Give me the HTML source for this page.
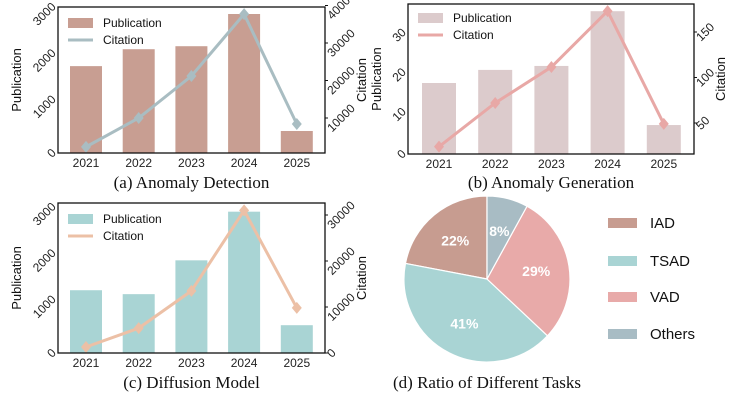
<!DOCTYPE html>
<html><head><meta charset="utf-8"><style>
body{margin:0;background:#fff;width:750px;height:400px;overflow:hidden}
svg{font-family:"Liberation Sans",sans-serif}
.cap{font-family:"Liberation Serif",serif;font-size:17px;fill:#111}
</style></head><body>
<svg id="fig" width="750" height="400"></svg>
<script>
const years=["2021","2022","2023","2024","2025"];
const pubA=[1875,2240,2305,3000,475];
const citA=[2300,10000,21200,37700,8400];
const pubB=[17.9,21.2,22.2,36,7.3];
const citB=[24,72,111.5,173,49];
const pubC=[1355,1270,2000,3050,600];
const citC=[1300,5400,13500,31000,9800];
const leftTicksA=[0,1000,2000,3000];
const rightTicksA=[10000,20000,30000,40000];
const leftTicksB=[0,10,20,30];
const rightTicksB=[50,100,150];
const leftTicksC=[0,1000,2000,3000];
const rightTicksC=[0,10000,20000,30000];
const pieLabels=["IAD","TSAD","VAD","Others"];
const pieValues=[22,41,29,8];
const pieColors=["#c79c90","#a9d4d4","#e8aaa9","#a8bcc4"];

const NS="http://www.w3.org/2000/svg";
const svg=document.getElementById('fig');
function mk(tag,attrs,parent,txt){const e=document.createElementNS(NS,tag);for(const k in attrs)e.setAttribute(k,attrs[k]);if(txt!==undefined)e.textContent=txt;(parent||svg).appendChild(e);return e;}

function panel(o){
  const g=mk('g',{});
  
  
  const yL=v=>o.bottom-(v-o.l0)/(o.l1-o.l0)*(o.bottom-o.lTop);
  const yR=v=>o.rY0-(v-o.r0)/(o.r1-o.r0)*(o.rY0-o.rY1);
  const xc=i=>o.x0+i*o.step;
  years.forEach((y,i)=>{
    const r=mk('rect',{x:xc(i)-o.bw/2,y:yL(o.pub[i]),width:o.bw,height:o.bottom-yL(o.pub[i]),fill:o.barColor},g);
    
    
  });
  const pts=o.cit.map((v,i)=>xc(i)+','+yR(v)).join(' ');
  const pl=mk('polyline',{points:pts,fill:'none',stroke:o.lineColor,'stroke-width':3},g);
  
  
  o.cit.forEach((v,i)=>{
    const x=xc(i),y=yR(v);
    const m=mk('polygon',{points:`${x},${y-6} ${x+5},${y} ${x},${y+6} ${x-5},${y}`,fill:o.lineColor},g);
    
    
  });
  const fr=mk('rect',{x:o.left,y:o.top,width:o.right-o.left,height:o.bottom-o.top,fill:'none',stroke:'#111','stroke-width':1.3},g);
  
  
  years.forEach((y,i)=>{
    const t=mk('text',{x:xc(i),y:o.bottom+14,'text-anchor':'middle','font-size':12,fill:'#222'},g,y);
    
    
  });
  o.lt.forEach(v=>{
    const y=yL(v);
    const w=String(v).length*6.7;
    const x=o.left-4-w*0.36;
    const t=mk('text',{x:x,y:y+4,'text-anchor':'middle','font-size':12,fill:'#222',transform:`rotate(-45 ${x} ${y})`},g,v);
    
    
  });
  o.rt.forEach(v=>{
    const y=yR(v);
    const w=String(v).length*6.7;
    const x=o.right+4+w*0.36;
    mk('line',{x1:o.right,x2:o.right+3,y1:y,y2:y,stroke:'#111'},g);
    const t=mk('text',{x:x,y:y+4,'text-anchor':'middle','font-size':12,fill:'#222',transform:`rotate(-45 ${x} ${y})`},g,v);
    
    
  });
  const mid=(o.top+o.bottom)/2;
  const yl=mk('text',{x:o.ylx,y:mid,'text-anchor':'middle','font-size':13,fill:'#111',transform:`rotate(-90 ${o.ylx} ${mid})`},g,'Publication');
  
  
  const yr=mk('text',{x:o.yrx,y:mid,'text-anchor':'middle','font-size':13,fill:'#111',transform:`rotate(-90 ${o.yrx} ${mid})`},g,'Citation');
  
  
  const lg=mk('g',{},g);
  
  
  mk('rect',{x:o.lgx,y:o.lgy-5,width:25,height:10,fill:o.barColor},lg);
  mk('text',{x:o.lgx+35,y:o.lgy+4,'font-size':12,fill:'#111'},lg,'Publication');
  mk('line',{x1:o.lgx,x2:o.lgx+25,y1:o.lgy+17,y2:o.lgy+17,stroke:o.lineColor,'stroke-width':3},lg);
  mk('text',{x:o.lgx+35,y:o.lgy+21,'font-size':12,fill:'#111'},lg,'Citation');
  const c=mk('text',{x:(o.left+o.right)/2,y:o.capy,'text-anchor':'middle',class:'cap'},g,o.cap);
  
  
}

panel({name:'anomaly-detection-chart',left:58,right:325,top:7,bottom:153,x0:86,step:52.7,bw:32,
 pub:pubA,cit:citA,l0:0,l1:3000,lTop:14,r0:10000,r1:30000,rY0:118,rY1:43,lt:leftTicksA,rt:rightTicksA,
 barColor:'#c89e92',lineColor:'#a9bdc2',ylx:21,yrx:366,lgx:68,lgy:23,capy:188,cap:'(a) Anomaly Detection'});
panel({name:'anomaly-generation-chart',left:408,right:694,top:4,bottom:154,x0:439,step:56.2,bw:34,
 pub:pubB,cit:citB,l0:0,l1:30,lTop:35,r0:50,r1:150,rY0:123,rY1:32,lt:leftTicksB,rt:rightTicksB,
 barColor:'#dccbcc',lineColor:'#e8a8a6',ylx:381,yrx:725,lgx:418,lgy:18,capy:188,cap:'(b) Anomaly Generation'});
panel({name:'diffusion-model-chart',left:58,right:325,top:203,bottom:353,x0:86,step:52.7,bw:32,
 pub:pubC,cit:citC,l0:0,l1:3000,lTop:214,r0:0,r1:30000,rY0:353,rY1:215,lt:leftTicksC,rt:rightTicksC,
 barColor:'#a9d4d4',lineColor:'#ecc0a6',ylx:21,yrx:366,lgx:68,lgy:219,capy:388,cap:'(c) Diffusion Model'});

// pie
const pg=mk('g',{});


const cx=487,cy=279,R=83;
const total=pieValues.reduce((a,b)=>a+b,0);
let ang=90;
pieValues.forEach((v,i)=>{
  const a0=ang*Math.PI/180, a1=(ang+v/total*360)*Math.PI/180;
  const x0=cx+R*Math.cos(a0),y0=cy-R*Math.sin(a0),x1=cx+R*Math.cos(a1),y1=cy-R*Math.sin(a1);
  const large=v/total>0.5?1:0;
  const p=mk('path',{d:`M${cx},${cy} L${x0},${y0} A${R},${R} 0 ${large} 0 ${x1},${y1} Z`,fill:pieColors[i],stroke:'#fff','stroke-width':1.2},pg);
  
  
  const am=(a0+a1)/2, lr=R*0.6;
  const t=mk('text',{x:cx+lr*Math.cos(am),y:cy-lr*Math.sin(am)+5,'text-anchor':'middle','font-size':14,'font-weight':'bold',fill:'#fff'},pg,v+'%');
  
  
  ang+=v/total*360;
});
const legY=[223,261,297,334];
pieLabels.forEach((l,i)=>{
  const g=mk('g',{});
  
  
  mk('rect',{x:608,y:legY[i]-5,width:29,height:10,fill:pieColors[i]},g);
  mk('text',{x:650,y:legY[i]+5,'font-size':15,fill:'#111'},g,l);
});
const dc=mk('text',{x:487,y:388,'text-anchor':'middle',class:'cap'},undefined,'(d) Ratio of Different Tasks');


</script>
</body></html>
